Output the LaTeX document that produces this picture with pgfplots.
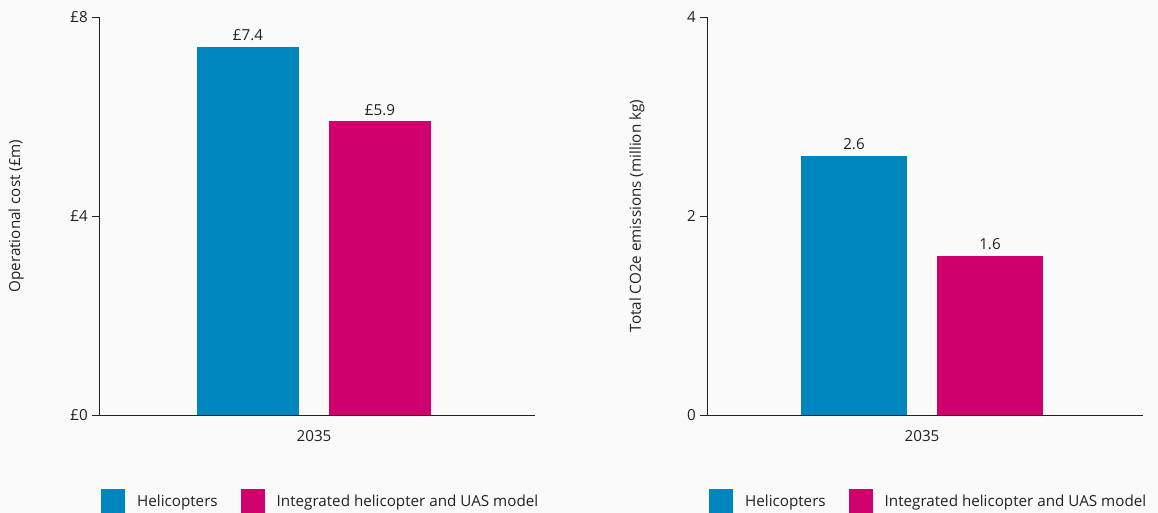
\documentclass[border=0pt]{standalone}
\usepackage{fontspec}
\setmainfont{Open Sans}
\usepackage{pgfplots}
\pgfplotsset{compat=1.18}
\definecolor{heli}{HTML}{0086BF}
\definecolor{integ}{HTML}{D0006F}
\definecolor{bg}{HTML}{FAFAFA}
\definecolor{txt}{HTML}{222222}
\newcommand{\fs}{\fontsize{15.2}{18}\selectfont}
\pgfplotsset{mystyle/.style={
  scale only axis, width=436pt, height=398pt,
  anchor=south west,
  xmin=-215, xmax=221, ymin=0,
  axis lines=left,
  axis line style={-, draw=txt, line width=0.8pt},
  ybar=30pt, bar width=102pt,
  xtick={0}, xticklabels={2035},
  x tick style={draw=none},
  tick align=outside, major tick length=7pt,
  y tick style={draw=txt, line width=0.8pt},
  /pgf/number format/assume math mode=true,
  ticklabel style={font=\fs, text=txt},
  yticklabel style={inner sep=4pt},
  xticklabel style={yshift=-5pt},
  label style={font=\fs, text=txt},
  nodes near coords style={font=\fs, text=txt, inner sep=6pt},
  legend style={at={(axis description cs:0,0)}, anchor=west, xshift=2pt, yshift=-86pt,
    draw=none, fill=none, legend columns=2, inner sep=0pt, font=\fs,
    nodes={inner sep=0pt, text=txt},
    /tikz/every odd column/.append style={column sep=12pt},
    /tikz/every even column/.append style={column sep=23pt}},
}}
\pgfplotsset{sq/.style={legend image code/.code={\fill[##1] (0pt,-12pt) rectangle (24pt,12pt);}}}
\begin{document}
\begin{tikzpicture}[x=1pt,y=1pt]
\path[use as bounding box, fill=bg] (0,0) rectangle (1158,513);
\begin{axis}[mystyle, at={(99pt,98pt)}, ymax=8, ytick={0,4,8}, yticklabels={£0,£4,£8},
  ylabel={Operational cost (£m)}, ylabel style={at={(axis description cs:-0.19,0.5)}, anchor=center},
  nodes near coords={£\pgfmathprintnumber[fixed,precision=1,fixed zerofill]{\pgfplotspointmeta}}]
\addplot[fill=heli, draw=none, sq] coordinates {(0,7.4)};
\addplot[fill=integ, draw=none, sq] coordinates {(0,5.9)};
\legend{Helicopters, Integrated helicopter and UAS model}
\end{axis}
\begin{axis}[mystyle, at={(707pt,98pt)}, ymax=4, ytick={0,2,4}, bar width=106pt,
  ylabel={Total CO2e emissions (million kg)}, ylabel style={at={(axis description cs:-0.161,0.5)}, anchor=center},
  nodes near coords={\pgfmathprintnumber[fixed,precision=1,fixed zerofill]{\pgfplotspointmeta}}]
\addplot[fill=heli, draw=none, sq] coordinates {(0,2.6)};
\addplot[fill=integ, draw=none, sq] coordinates {(0,1.6)};
\legend{Helicopters, Integrated helicopter and UAS model}
\end{axis}
\end{tikzpicture}
\end{document}
